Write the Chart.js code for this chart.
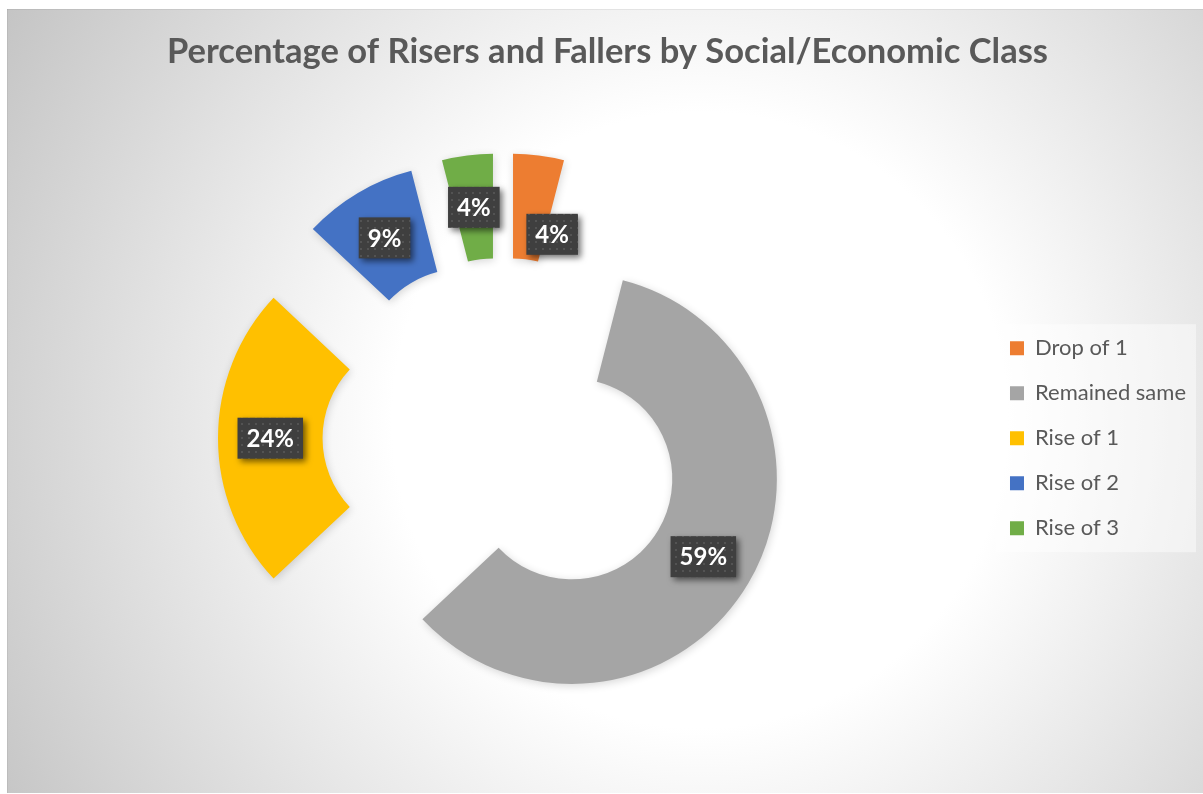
<!DOCTYPE html>
<html>
<head>
<meta charset="utf-8">
<title>Risers and Fallers</title>
<script src="https://cdn.jsdelivr.net/npm/chart.js@4.4.1/dist/chart.umd.min.js"></script>
<style>
  html, body { margin: 0; padding: 0; background: #fff; }
  canvas { display: block; }
</style>
</head>
<body>
<canvas id="classChart" width="1203" height="794"></canvas>
<script>
const categories = ['Drop of 1', 'Remained same', 'Rise of 1', 'Rise of 2', 'Rise of 3'];
const percentages = [4, 59, 24, 9, 4];
const sliceColors = ['#ED7D31', '#A5A5A5', '#FFC000', '#4472C4', '#70AD47'];

const FONT = 'Lato, "Open Sans", sans-serif';
const EXPLODE = 80;            // how far every slice is pulled out from the centre
// nudge for the first label so it clears the one next to it
const labelShift = [[20, 27], [0, 0], [0, 0], [0, 0], [0, 0]];

// dotted dark fill used behind the data labels
function makeLabelPattern(ctx) {
  const tile = document.createElement('canvas');
  tile.width = 7;
  tile.height = 7;
  const t = tile.getContext('2d');
  t.fillStyle = '#3f3f3f';
  t.fillRect(0, 0, 7, 7);
  t.fillStyle = '#535353';
  t.fillRect(3, 3, 2, 2);
  return ctx.createPattern(tile, 'repeat');
}

const backdrop = {
  id: 'backdrop',
  beforeDraw(chart) {
    const { ctx, width, height } = chart;
    ctx.save();
    ctx.fillStyle = '#fff';
    ctx.fillRect(0, 0, width, height);
    const g = ctx.createRadialGradient(700, 420, 0, 700, 420, 810);
    g.addColorStop(0, '#ffffff');
    g.addColorStop(0.38, '#ffffff');
    g.addColorStop(1, '#c4c4c4');
    ctx.fillStyle = g;
    ctx.fillRect(7, 9, width - 7, height - 10);
    ctx.fillStyle = 'rgba(0,0,0,0.06)';
    ctx.fillRect(7, 9, width - 7, 1);
    ctx.fillRect(7, 9, 1, height - 10);

    // light panel behind the legend
    const boxes = chart.legend.legendHitBoxes;
    if (boxes && boxes.length) {
      const first = boxes[0];
      const last = boxes[boxes.length - 1];
      const x0 = first.left - 14;
      const y0 = first.top - 13;
      ctx.fillStyle = 'rgba(255,255,255,0.45)';
      ctx.fillRect(x0, y0, 200, last.top + last.height + 13 - y0);
    }
    ctx.restore();
  }
};

// push each arc outwards along its middle angle
const explode = {
  id: 'explode',
  afterDatasetUpdate(chart, args) {
    args.meta.data.forEach((arc) => {
      const mid = (arc.startAngle + arc.endAngle) / 2;
      arc.x += Math.cos(mid) * EXPLODE;
      arc.y += Math.sin(mid) * EXPLODE;
    });
  }
};

const arcShadow = {
  id: 'arcShadow',
  beforeDatasetDraw(chart) {
    const ctx = chart.ctx;
    ctx.save();
    ctx.shadowColor = 'rgba(0,0,0,0.16)';
    ctx.shadowBlur = 9;
    ctx.shadowOffsetX = 1;
    ctx.shadowOffsetY = 2;
  },
  afterDatasetDraw(chart) {
    chart.ctx.restore();
  }
};

const valueLabels = {
  id: 'valueLabels',
  afterDatasetsDraw(chart) {
    const ctx = chart.ctx;
    const pattern = makeLabelPattern(ctx);
    const values = chart.data.datasets[0].data;
    chart.getDatasetMeta(0).data.forEach((arc, i) => {
      const c = arc.getCenterPoint();
      const x = c.x + labelShift[i][0];
      const y = c.y + labelShift[i][1];
      const text = values[i] + '%';
      ctx.save();
      ctx.font = 'bold 24px ' + FONT;
      const w = ctx.measureText(text).width + 18;
      const h = 41;
      ctx.shadowColor = 'rgba(0,0,0,0.55)';
      ctx.shadowBlur = 6;
      ctx.shadowOffsetX = 3;
      ctx.shadowOffsetY = 3;
      ctx.fillStyle = pattern;
      ctx.fillRect(x - w / 2, y - h / 2, w, h);
      ctx.shadowColor = 'transparent';
      ctx.fillStyle = '#ffffff';
      ctx.textAlign = 'center';
      ctx.textBaseline = 'middle';
      ctx.fillText(text, x, y + 1);
      ctx.restore();
    });
  }
};

new Chart(document.getElementById('classChart'), {
  type: 'doughnut',
  data: {
    labels: categories,
    datasets: [{
      data: percentages,
      backgroundColor: sliceColors,
      borderWidth: 0,
      hoverOffset: 0
    }]
  },
  options: {
    responsive: false,
    animation: false,
    radius: 205,
    cutout: '49%',
    layout: {
      padding: { left: 19, right: 7, top: 16, bottom: 4 }
    },
    plugins: {
      title: {
        display: true,
        text: 'Percentage of Risers and Fallers by Social/Economic Class',
        color: '#595959',
        font: { family: FONT, size: 34.5, weight: 'bold' },
        padding: { top: 15, bottom: 14 }
      },
      legend: {
        position: 'right',
        fullSize: false,
        labels: {
          color: '#595959',
          font: { family: FONT, size: 22 },
          boxWidth: 14,
          boxHeight: 14,
          padding: 23
        }
      },
      tooltip: { enabled: false }
    }
  },
  plugins: [backdrop, explode, arcShadow, valueLabels]
});
</script>
</body>
</html>
